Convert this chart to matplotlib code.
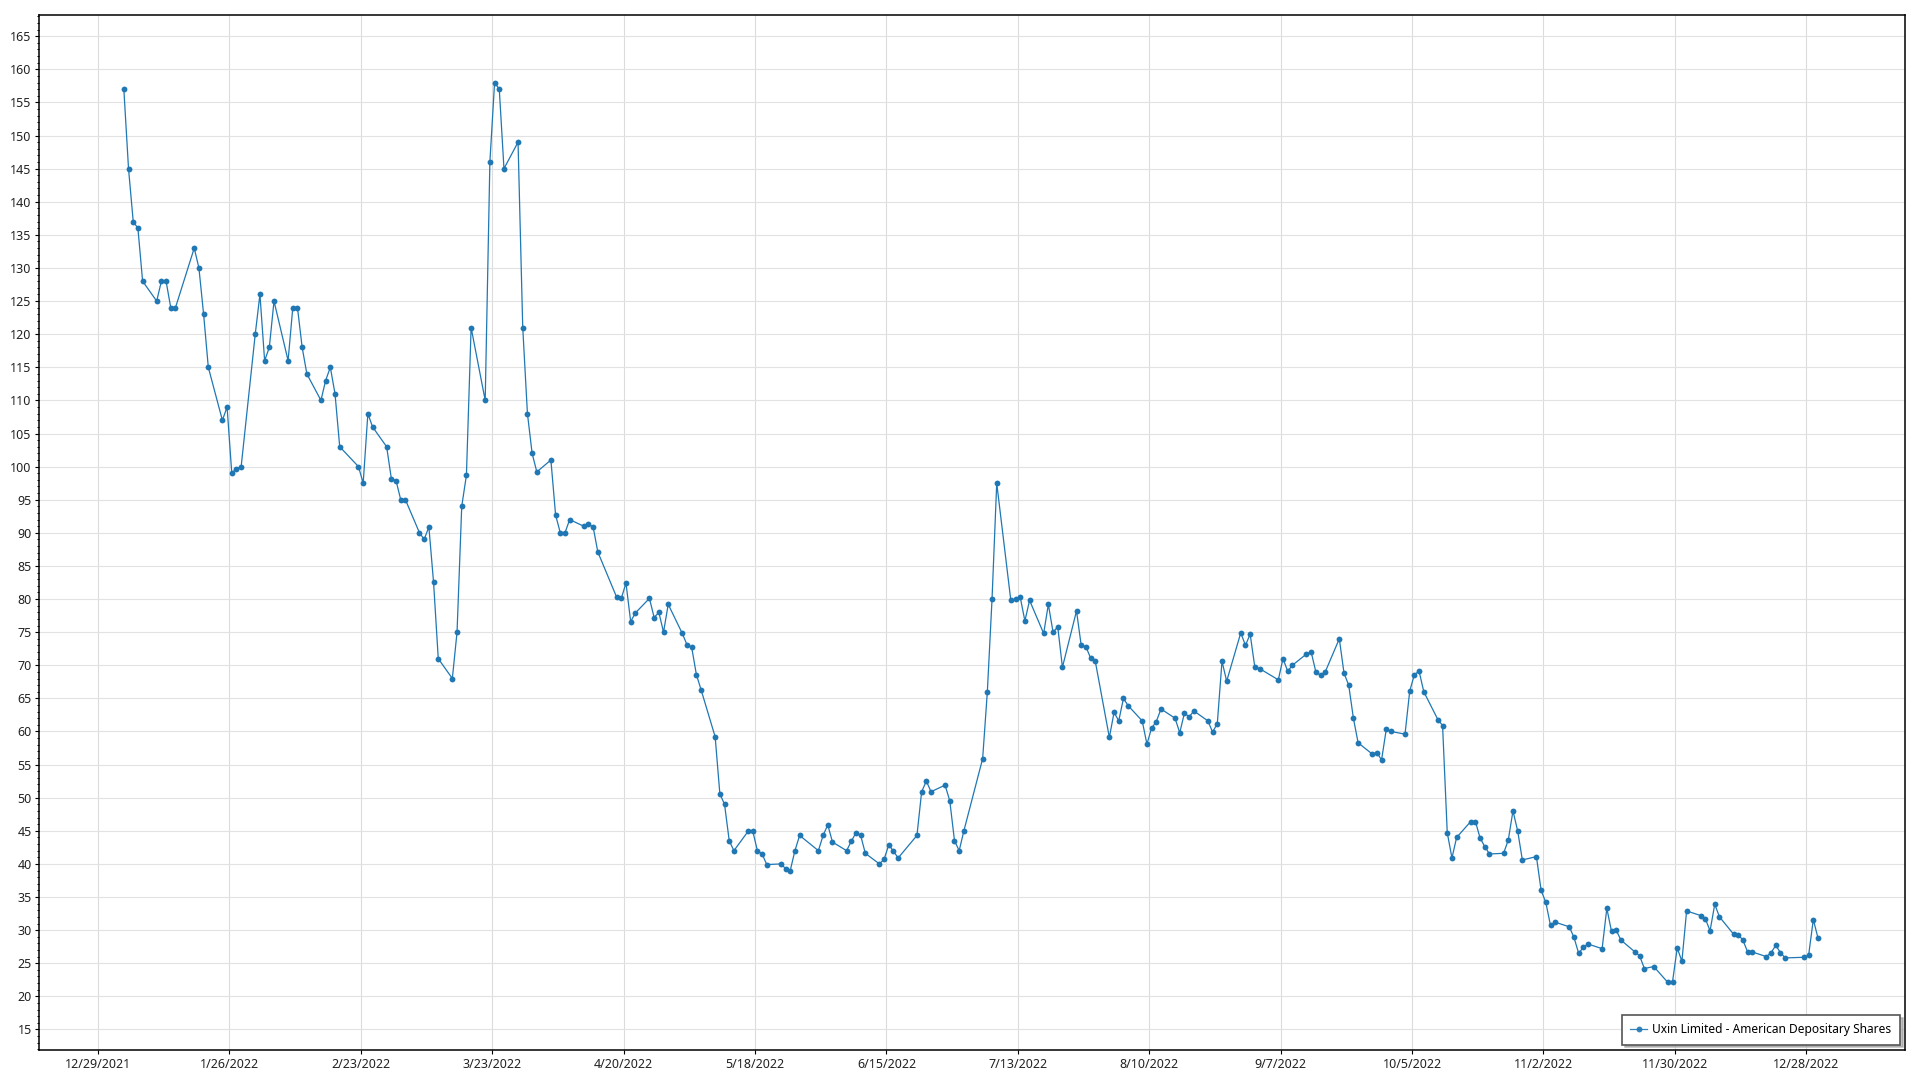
"""
Uxin Limited ADS - cotação diária 2022
"""
import matplotlib
matplotlib.use("Agg")
import matplotlib.pyplot as plt
from matplotlib.ticker import MultipleLocator
from matplotlib.lines import Line2D
import pandas as pd

plt.rcParams['font.family'] = ['Noto Sans', 'DejaVu Sans']

# dias de pregão e fechamentos, mês a mês (2022)
jan_days = [3, 4, 5, 6, 7, 10, 11, 12, 13, 14, 18, 19, 20, 21, 24, 25, 26, 27, 28, 31]
jan_vals = [157, 145, 137, 136, 128, 125, 128, 128, 124, 124, 133, 130, 123, 115, 107, 109, 99, 99.7, 100, 120]

feb_days = [1, 2, 3, 4, 7, 8, 9, 10, 11, 14, 15, 16, 17, 18, 22, 23, 24, 25, 28]
feb_vals = [126, 116, 118, 125, 116, 124, 124, 118, 114, 110, 113, 115, 111, 103, 100, 97.5, 108, 106, 103]

mar_days = [1, 2, 3, 4, 7, 8, 9, 10, 11, 14, 15, 16, 17, 18, 21, 22, 23, 24, 25, 28, 29, 30, 31]
mar_vals = [98.2, 97.9, 95, 95, 90, 89, 90.9, 82.5, 71, 68, 75, 94, 98.7, 121,
            110, 146, 158, 157, 145, 149, 121, 108, 102]

apr_days = [1, 4, 5, 6, 7, 8, 11, 12, 13, 14, 18, 19, 20, 21, 22, 25, 26, 27, 28, 29]
apr_vals = [99.2, 101, 92.7, 90, 90, 92, 91, 91.3, 90.9, 87.1, 80.3, 80.1, 82.4, 76.6, 77.9,
            80.1, 77.2, 78, 75, 79.2]

may_days = [2, 3, 4, 5, 6, 9, 10, 11, 12, 13, 16, 17, 18, 19, 20, 23, 24, 25, 26, 27, 31]
may_vals = [74.8, 73.1, 72.7, 68.6, 66.3, 59.2, 50.6, 49, 43.5, 42, 44.9, 45, 42, 41.5, 39.9,
            40, 39.3, 39, 42, 44.3, 42]

jun_days = [1, 2, 3, 6, 7, 8, 9, 10, 13, 14, 15, 16, 17, 21, 22, 23, 24, 27, 28, 29, 30]
jun_vals = [44.3, 45.9, 43.3, 42, 43.4, 44.7, 44.3, 41.6, 40, 40.7, 42.9, 41.9, 40.9,
            44.3, 50.9, 52.5, 50.9, 51.9, 49.5, 43.5, 42]

jul_days = [1, 5, 6, 7, 8, 11, 12, 13, 14, 15, 18, 19, 20, 21, 22, 25, 26, 27, 28, 29]
jul_vals = [45, 55.9, 66, 80, 97.5, 79.8, 80, 80.3, 76.7, 79.8, 74.8, 79.2, 75, 75.8, 69.7,
            78.2, 73, 72.8, 71.1, 70.6]

aug_days = [1, 2, 3, 4, 5, 8, 9, 10, 11, 12, 15, 16, 17, 18, 19, 22, 23, 24, 25, 26, 29, 30, 31]
aug_vals = [59.1, 62.9, 61.6, 65, 63.9, 61.6, 58.1, 60.5, 61.5, 63.4, 62, 59.8, 62.8, 62.2, 63.1,
            61.6, 59.9, 61.2, 70.6, 67.6, 74.9, 73, 74.7]

sep_days = [1, 2, 6, 7, 8, 9, 12, 13, 14, 15, 16, 19, 20, 21, 22, 23, 26, 27, 28, 29, 30]
sep_vals = [69.7, 69.5, 67.8, 71, 69.1, 70, 71.7, 72, 69, 68.5, 69, 74, 68.8, 67, 62, 58.3,
            56.6, 56.8, 55.7, 60.3, 60]

oct_days = [3, 4, 5, 6, 7, 10, 11, 12, 13, 14, 17, 18, 19, 20, 21, 24, 25, 26, 27, 28, 31]
oct_vals = [59.6, 66.1, 68.6, 69.1, 66, 61.8, 60.9, 44.7, 40.9, 44, 46.4, 46.4, 43.9, 42.6, 41.5,
            41.6, 43.6, 48, 45, 40.6, 41.1]

nov_days = [1, 2, 3, 4, 7, 8, 9, 10, 11, 14, 15, 16, 17, 18, 21, 22, 23, 25, 28, 29, 30]
nov_vals = [36, 34.2, 30.7, 31.2, 30.5, 28.9, 26.5, 27.4, 27.9, 27.2, 33.3, 29.8, 30, 28.5,
            26.7, 26.1, 24.2, 24.5, 22.1, 22.2, 27.3]

dec_days = [1, 2, 5, 6, 7, 8, 9, 12, 13, 14, 15, 16, 19, 20, 21, 22, 23, 27, 28, 29, 30]
dec_vals = [25.3, 32.9, 32.2, 31.7, 29.9, 33.9, 32, 29.4, 29.3, 28.5, 26.7, 26.7,
            26, 26.6, 27.7, 26.6, 25.8, 25.9, 26.2, 31.6, 28.8]

meses = [(1, jan_days, jan_vals), (2, feb_days, feb_vals), (3, mar_days, mar_vals),
         (4, apr_days, apr_vals), (5, may_days, may_vals), (6, jun_days, jun_vals),
         (7, jul_days, jul_vals), (8, aug_days, aug_vals), (9, sep_days, sep_vals),
         (10, oct_days, oct_vals), (11, nov_days, nov_vals), (12, dec_days, dec_vals)]

datas = []
valores = []
for m, dias, vals in meses:
    datas += [pd.Timestamp(2022, m, d) + pd.Timedelta(hours=12) for d in dias]
    valores += vals

ticks_x = pd.date_range('2021-12-29', '2022-12-28', freq='28D')
label_serie = 'Uxin Limited - American Depositary Shares'
cor = '#1f77b4'

fig = plt.figure(figsize=(19.2, 10.8), dpi=100)
ax = fig.add_axes([0.0205, 0.0278, 0.9718, 0.9583])

ax.plot(datas, valores, '-', color=cor, lw=0.9, marker='o', ms=4.2,
        markeredgewidth=0, label=label_serie, zorder=3)

ax.set_xlim(pd.Timestamp('2021-12-16 12:00'), pd.Timestamp('2023-01-18 02:00'))
ax.set_ylim(11.9, 168.2)

ax.set_xticks(ticks_x)
ax.set_xticklabels([f'{t.month}/{t.day}/{t.year}' for t in ticks_x])
ax.yaxis.set_major_locator(MultipleLocator(5))
ax.yaxis.set_minor_locator(MultipleLocator(1))
ax.set_yticks(range(15, 170, 5))

ax.grid(True, which='major', axis='y', color='#e2e2e2', lw=0.8, zorder=0)
ax.grid(True, which='major', axis='x', color='#dcdcdc', lw=0.8, zorder=0)

ax.tick_params(axis='both', which='major', labelsize=9, length=3, width=0.8,
               color='black', labelcolor='#222222')
ax.tick_params(axis='x', which='major', pad=3)
ax.tick_params(axis='y', which='major', pad=2.5)
ax.tick_params(axis='y', which='minor', length=1.8, width=0.7)
for s in ax.spines.values():
    s.set_color('black')
    s.set_linewidth(1.1)

handle = Line2D([], [], color=cor, lw=0.9, marker='o', ms=4.2, markeredgewidth=0,
                alpha=0.9)
leg = ax.legend([handle], [label_serie], loc='lower right', fontsize=8.6,
                fancybox=False, shadow={'color': '#999999', 'alpha': 0.6},
                framealpha=1, edgecolor='#555555', borderpad=0.7,
                handlelength=1.4, handletextpad=0.45, borderaxespad=0.45)
leg.get_frame().set_linewidth(1.2)

plt.savefig('out.png', dpi=100)
